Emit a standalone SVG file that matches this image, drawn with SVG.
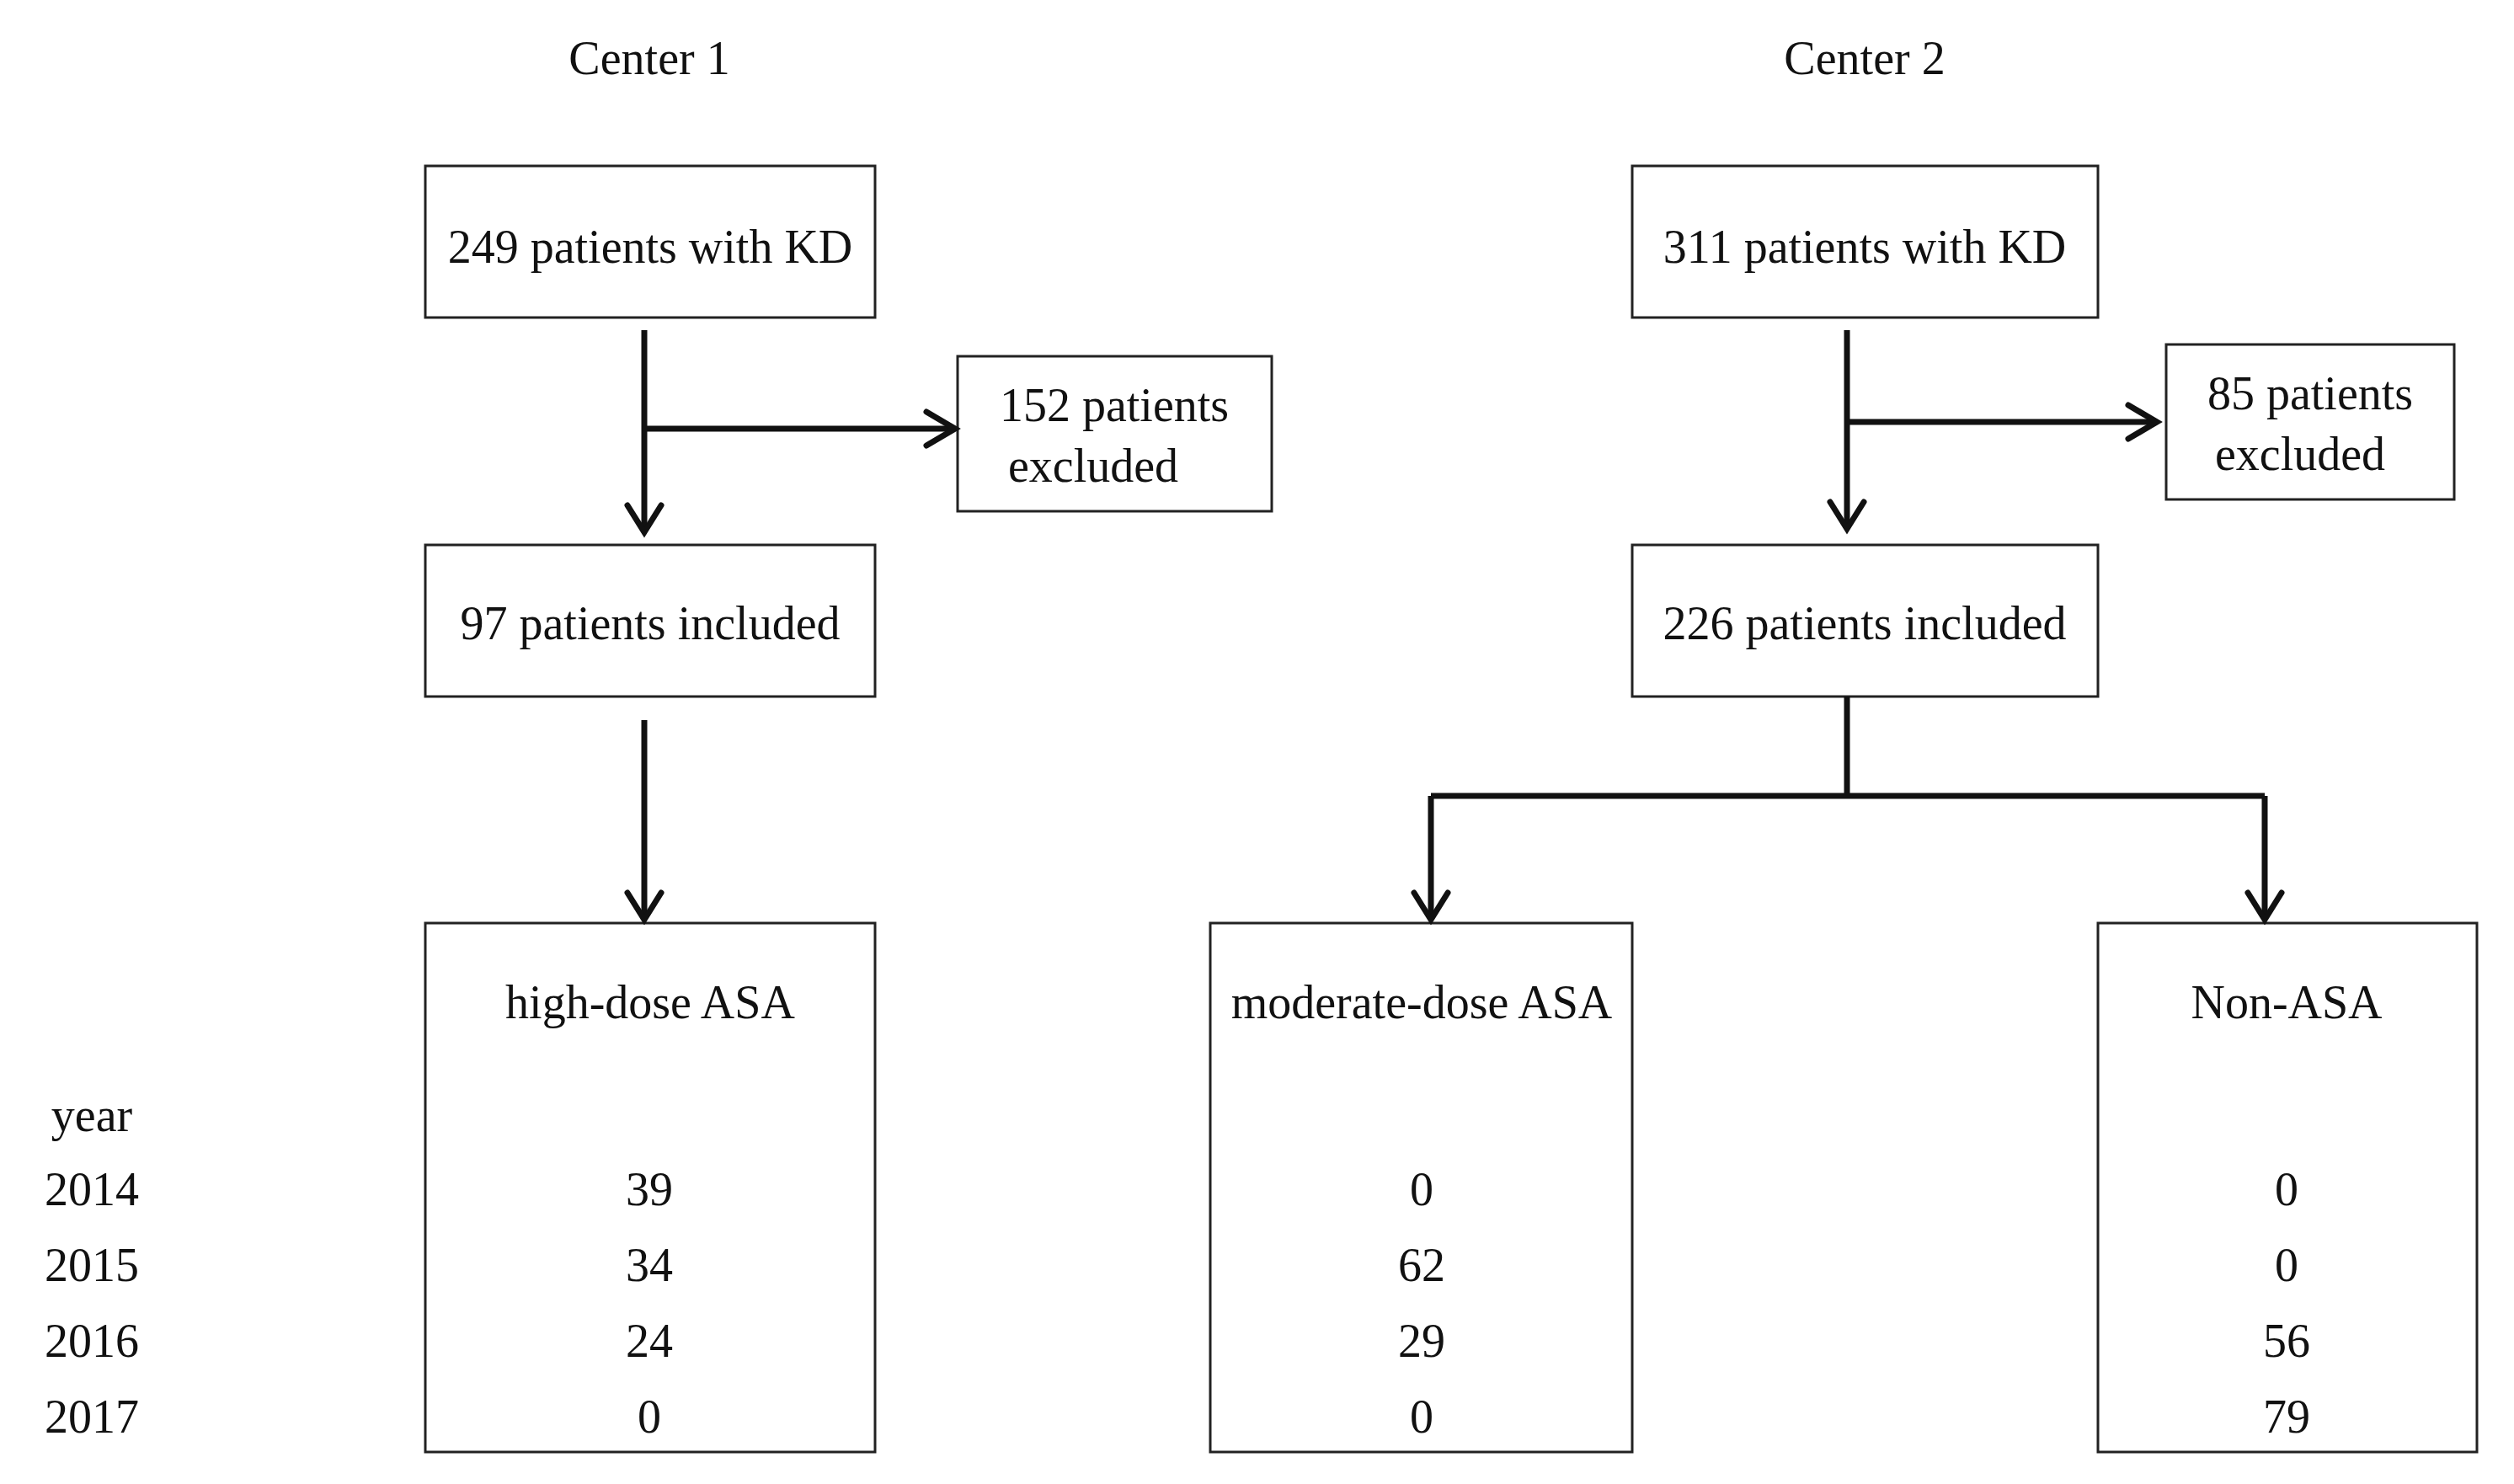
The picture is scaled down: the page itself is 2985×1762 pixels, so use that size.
<svg xmlns="http://www.w3.org/2000/svg" width="2985" height="1762" viewBox="0 0 2985 1762">
<style>
text{font-family:"Liberation Serif",serif;font-size:56px;fill:#111;text-anchor:middle;dominant-baseline:central}
rect{fill:#fff;stroke:#222;stroke-width:3}
.c{fill:none;stroke:#111;stroke-width:7}
.ah{fill:none;stroke:#111;stroke-width:7;stroke-linecap:round;stroke-linejoin:miter}
</style>
<rect width="2985" height="1762" style="stroke:none"/>
<text x="771" y="69">Center 1</text>
<text x="2214" y="69">Center 2</text>
<g id="n1"><rect x="505" y="197" width="534" height="180"/><text x="772" y="293">249 patients with KD</text></g>
<g id="n2"><rect x="1938" y="197" width="553" height="180"/><text x="2214" y="293">311 patients with KD</text></g>
<g id="n3"><rect x="1137" y="423" width="373" height="184"/><text x="1323" y="481">152 patients</text><text x="1298" y="553">excluded</text></g>
<g id="n4"><rect x="2572" y="409" width="342" height="184"/><text x="2743" y="467">85 patients</text><text x="2731" y="539">excluded</text></g>
<g id="n5"><rect x="505" y="647" width="534" height="180"/><text x="772" y="740">97 patients included</text></g>
<g id="n6"><rect x="1938" y="647" width="553" height="180"/><text x="2214" y="740">226 patients included</text></g>
<g id="n7"><rect x="505" y="1096" width="534" height="628"/><text x="772" y="1190">high-dose ASA</text>
<text x="771" y="1412">39</text><text x="771" y="1502">34</text><text x="771" y="1592">24</text><text x="771" y="1682">0</text></g>
<g id="n8"><rect x="1437" y="1096" width="501" height="628"/><text x="1688" y="1190">moderate-dose ASA</text>
<text x="1688" y="1412">0</text><text x="1688" y="1502">62</text><text x="1688" y="1592">29</text><text x="1688" y="1682">0</text></g>
<g id="n9"><rect x="2491" y="1096" width="450" height="628"/><text x="2715" y="1190">Non-ASA</text>
<text x="2715" y="1412">0</text><text x="2715" y="1502">0</text><text x="2715" y="1592">56</text><text x="2715" y="1682">79</text></g>
<g id="years"><text x="109" y="1324">year</text><text x="109" y="1412">2014</text><text x="109" y="1502">2015</text><text x="109" y="1592">2016</text><text x="109" y="1682">2017</text></g>
<g id="connectors">
<path class="c" d="M765 392V630M765 509H1132M765 855V1090M2193 392V626M2193 501H2559M2193 827V945M1699 945H2689M1699 945V1090M2689 945V1090"/>
<path class="ah" d="M745 600L765 632L785 600M1100 489L1134 509L1100 529M745 1060L765 1092L785 1060M2173 596L2193 628L2213 596M2527 481L2561 501L2527 521M1679 1060L1699 1092L1719 1060M2669 1060L2689 1092L2709 1060"/>
</g>
</svg>
